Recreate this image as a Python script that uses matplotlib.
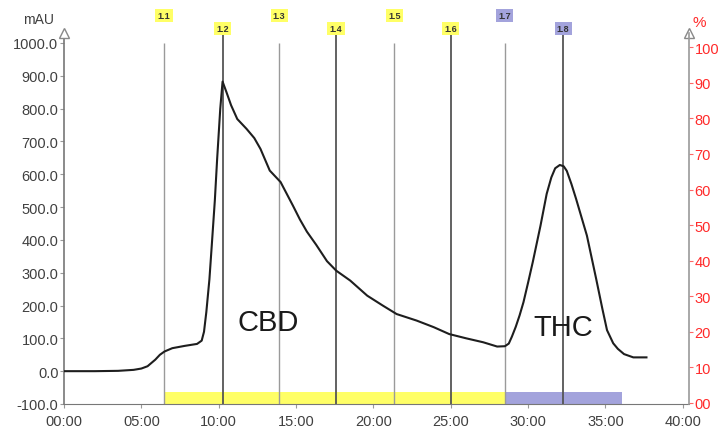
import matplotlib.pyplot as plt
from matplotlib.ticker import FuncFormatter

plt.rcParams['font.family'] = ['Liberation Sans', 'DejaVu Sans']

# --- chromatogram trace (time in min, absorbance in mAU) ---
time_min = [0, 2, 3.5, 4.5, 5.0, 5.4, 5.9, 6.2, 6.5, 7.0, 7.8, 8.6, 8.9, 9.05,
            9.2, 9.4, 9.55, 9.75, 9.9, 10.1, 10.25, 10.5, 10.8, 11.2, 11.8,
            12.3, 12.7, 13.3, 14.0, 14.8, 15.25, 15.7, 16.3, 17.0, 17.6, 18.5,
            19.6, 20.6, 21.5, 22.8, 23.9, 24.9, 26.0, 27.1, 28.0, 28.5, 28.75,
            28.95, 29.2, 29.45, 29.7, 30.0, 30.3, 30.8, 31.2, 31.5, 31.75,
            32.05, 32.3, 32.5, 32.8, 33.1, 33.8, 34.4, 34.8, 35.1, 35.5, 35.8,
            36.2, 36.8, 37.65]
mau = [0, 0, 1, 4, 8, 15, 35, 50, 60, 70, 77, 83, 93, 120,
       180, 280, 382, 520, 647, 799, 882, 850, 810, 768, 738,
       710, 677, 611, 576, 504, 462, 425, 385, 335, 306, 276,
       230, 200, 174, 154, 134, 113, 100, 88, 75, 76, 84,
       105, 135, 170, 210, 270, 332, 443, 540, 590, 618,
       628, 624, 610, 570, 525, 413, 281, 190, 125, 85, 68,
       52, 42, 42]

# --- fractions ---
frac_names = ["1.1", "1.2", "1.3", "1.4", "1.5", "1.6", "1.7", "1.8"]
frac_times = [6.46, 10.25, 13.91, 17.58, 21.35, 24.99, 28.5, 32.27]
frac_end = 36.1
frac_colors = ["#ffff66"] * 6 + ["#a3a3dc"] * 2

x_ticks = [0, 5, 10, 15, 20, 25, 30, 35, 40]
x_labels = ["00:00", "05:00", "10:00", "15:00", "20:00", "25:00", "30:00", "35:00", "40:00"]
y_ticks = [-100, 0, 100, 200, 300, 400, 500, 600, 700, 800, 900, 1000]
pct_ticks = [0, 10, 20, 30, 40, 50, 60, 70, 80, 90, 100]

fig = plt.figure(figsize=(7.21, 4.31), dpi=100)
ax = fig.add_axes([64 / 721, 1 - 405 / 431, (689 - 64) / 721, (405 - 34) / 431])
ax.set_xlim(0, 40.4)
ax.set_ylim(-100, 1030)

# fraction bars at the bottom
for i in range(len(frac_times)):
    x0 = frac_times[i]
    x1 = frac_times[i + 1] if i + 1 < len(frac_times) else frac_end
    ax.fill_between([x0, x1], -100, -63, color=frac_colors[i], lw=0, zorder=1)

# fraction marker lines + labels
for i, (name, t) in enumerate(zip(frac_names, frac_times)):
    if i % 2 == 0:
        ax.vlines(t, -100, 1000, color="#9a9a9a", lw=1.0, zorder=2)
        ly = 1084
    else:
        ax.vlines(t, -100, 1027, color="#555555", lw=1.3, zorder=2)
        ly = 1044
    ax.text(t, ly, name, ha="center", va="center", fontsize=6.5, fontweight="bold",
            color="#333333", clip_on=False,
            bbox=dict(boxstyle="square,pad=0.25", fc=frac_colors[i], ec="none"))

ax.plot(time_min, mau, color="#1e1e1e", lw=1.5, zorder=3)

ax.text(13.2, 149, "CBD", fontsize=21, ha="center", va="center", color="#1a1a1a")
ax.text(32.25, 135, "THC", fontsize=21, ha="center", va="center", color="#1a1a1a")

# axes styling
for s in ["top", "right"]:
    ax.spines[s].set_visible(False)
ax.spines["left"].set_color("#777777")
ax.spines["bottom"].set_color("#777777")
ax.spines["left"].set_linewidth(1.2)
ax.set_xticks(x_ticks)
ax.set_xticklabels(x_labels)
ax.set_yticks(y_ticks)
ax.yaxis.set_major_formatter(FuncFormatter(lambda v, p: "%.1f" % v))
ax.tick_params(axis="both", colors="#999999", labelcolor="#404040", labelsize=10.5,
               length=3, width=0.8)
ax.tick_params(axis="y", pad=1)
ax.tick_params(axis="x", pad=4)
ax.text(-0.04, 1.038, "mAU", transform=ax.transAxes, ha="center", va="center",
        fontsize=10, color="#404040")

ax2 = ax.twinx()
ax2.set_ylim(-0.3, 104)
ax2.set_yticks(pct_ticks)
ax2.set_yticklabels(["00"] + [str(v) for v in pct_ticks[1:]])
for s in ["top", "left", "bottom"]:
    ax2.spines[s].set_visible(False)
ax2.spines["right"].set_color("#999999")
ax2.spines["right"].set_linewidth(1.2)
ax2.tick_params(axis="y", colors="#ff6666", labelcolor="#ff2a2a", labelsize=10.5,
                length=3, width=0.8, pad=1)
ax2.text(1.017, 1.03, "%", transform=ax2.transAxes, ha="center", va="center",
         fontsize=11, color="#ff2a2a")

# open arrowheads on top of both value axes
for xa in [0, 1]:
    ax.plot([xa], [1.0], marker="^", ms=7, mfc="white", mec="#888888", mew=1,
            transform=ax.transAxes, clip_on=False, zorder=5)

fig.savefig("out.png", dpi=100)
